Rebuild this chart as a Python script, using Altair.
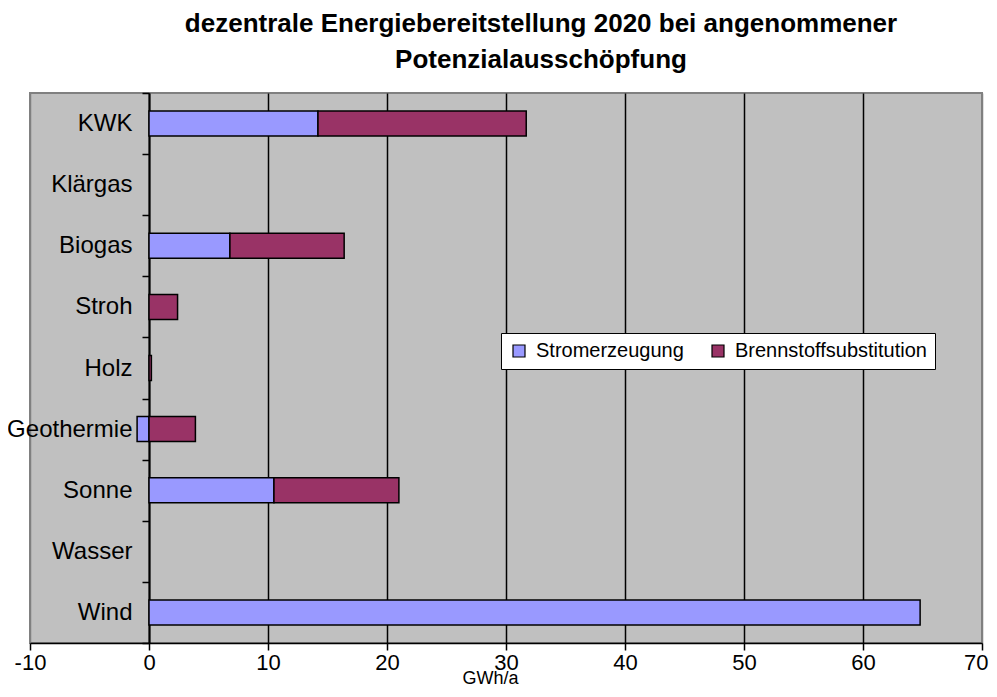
import altair as alt
import pandas as pd

categories = ["KWK", "Klärgas", "Biogas", "Stroh", "Holz", "Geothermie", "Sonne", "Wasser", "Wind"]
strom = [14.2, 0.0, 6.8, 0.0, 0.0, -1.0, 10.5, 0.0, 64.8]
brennstoff = [17.5, 0.0, 9.6, 2.4, 0.2, 3.9, 10.5, 0.0, 0.0]
series = ["Stromerzeugung", "Brennstoffsubstitution"]
colors = ["#9999FF", "#993366"]
x_ticks = [-10, 0, 10, 20, 30, 40, 50, 60, 70]

rows = []
for c, s, b in zip(categories, strom, brennstoff):
    if s != 0:
        rows.append({"Kategorie": c, "Reihe": series[0], "start": 0.0, "end": s, "ord": 0})
    if b != 0:
        base = max(s, 0.0)
        rows.append({"Kategorie": c, "Reihe": series[1], "start": base, "end": base + b, "ord": 1})
df = pd.DataFrame(rows)

FONT = "Liberation Sans"

bars = alt.Chart(df).mark_bar(height=25, stroke="black", strokeWidth=1.5).encode(
    y=alt.Y("Kategorie:N", sort=categories,
            scale=alt.Scale(domain=categories, paddingInner=0, paddingOuter=0),
            axis=alt.Axis(title=None, offset=-119, domainColor="black", domainWidth=2,
                          tickColor="black", tickSize=7, tickWidth=1.5, tickBand="extent",
                          labelFontSize=24, labelColor="black", labelPadding=10,
                          labelFont=FONT, grid=False, labelLimit=300)),
    x=alt.X("start:Q", scale=alt.Scale(domain=[-10, 70], nice=False, zero=False),
            axis=alt.Axis(title="GWh/a", values=x_ticks, domainColor="black", domainWidth=1.5,
                          tickColor="black", tickSize=7, tickWidth=1.5,
                          labelFontSize=22, labelColor="black", labelPadding=2, labelFont=FONT,
                          labelFlush=False,
                          labelExpr="'' + datum.value",
                          labelAlign=alt.condition("datum.value == 70",
                                                   alt.value("right"), alt.value("center")),
                          labelOffset=alt.condition("datum.value == 70",
                                                    alt.value(6), alt.value(0)),
                          grid=True,
                          gridColor=alt.condition("datum.value == -10 || datum.value == 70",
                                                  alt.value("#808080"), alt.value("black")),
                          gridWidth=1.5, gridOpacity=1,
                          titleFontSize=18, titleFontWeight="normal", titleFont=FONT,
                          titleColor="black", titleX=460, titleY=35, titleBaseline="middle")),
    x2="end:Q",
    color=alt.Color("Reihe:N", scale=alt.Scale(domain=series, range=colors),
                    legend=alt.Legend(title=None, orient="none", legendX=471, legendY=240,
                                      direction="horizontal", fillColor="white",
                                      strokeColor="black", padding=8, symbolType="square",
                                      symbolSize=144, symbolStrokeColor="black",
                                      symbolStrokeWidth=1.2, symbolOpacity=1,
                                      labelFontSize=20, labelFont=FONT, labelColor="black",
                                      labelOffset=7, columnPadding=24, labelLimit=400)),
    order=alt.Order("ord:Q"),
)

chart = bars.properties(
    width=952,
    height=550,
    background="white",
    padding={"left": 22, "top": 85, "right": 7, "bottom": 46},
    autosize=alt.AutoSizeParams(type="none"),
    title=alt.TitleParams(
        text=["dezentrale Energiebereitstellung 2020 bei angenommener", "Potenzialausschöpfung"],
        fontSize=26, font=FONT, fontWeight="bold", color="black",
        anchor="middle", frame="group", dx=35, offset=8, lineHeight=36,
    ),
).configure_view(
    fill="#C0C0C0", stroke="#808080", strokeWidth=2
)

chart.save("out.html", embed_options={"renderer": "svg", "actions": False})
